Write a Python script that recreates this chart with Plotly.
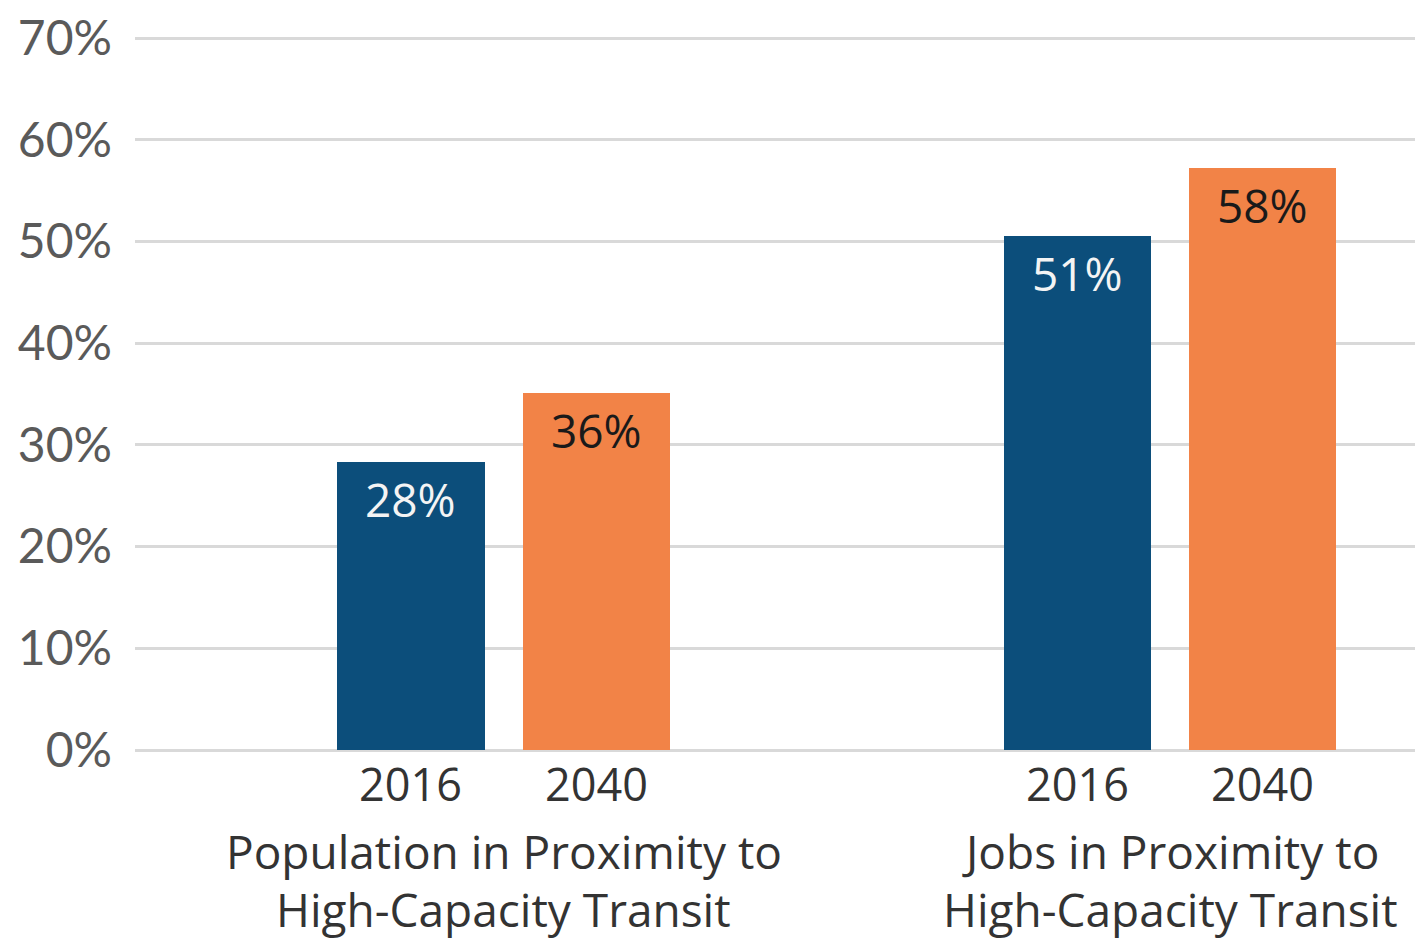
import plotly.graph_objects as go

groups = ["Population in Proximity to<br>High-Capacity Transit",
          "Jobs in Proximity to<br>High-Capacity Transit"]
years = ["2016", "2040"]
values_2016 = [28.3, 50.5]
values_2040 = [35.1, 57.2]
labels_2016 = ["28%", "51%"]
labels_2040 = ["36%", "58%"]
y_ticks = [0, 10, 20, 30, 40, 50, 60, 70]
y_ticktext = ["0%", "10%", "20%", "30%", "40%", "50%", "60%", "70%"]

BLUE = "#0C4E7B"
ORANGE = "#F28347"
OFFSET = 0.1392
WIDTH = 0.221
TICKFONT = "Lato"
TEXTFONT = "Open Sans"
PLOT_H = 750 - 37  # pixel height of plotting area

series = [
    (years[0], values_2016, labels_2016, BLUE, "#F4F4F4", -OFFSET),
    (years[1], values_2040, labels_2040, ORANGE, "#1A1A1A", OFFSET),
]

fig = go.Figure()
annotations = []
for name, vals, labs, color, tcolor, off in series:
    xs = [g + off for g in range(len(groups))]
    fig.add_trace(go.Bar(x=xs, y=vals, width=WIDTH, name=name,
                         marker=dict(color=color, line=dict(width=0)),
                         showlegend=False, hoverinfo="skip"))
    for x, v, lab in zip(xs, vals, labs):
        annotations.append(dict(x=x, y=v, xref="x", yref="y", text=lab,
                                showarrow=False, yanchor="top", yshift=-4,
                                font=dict(family=TEXTFONT, size=46, color=tcolor)))
        annotations.append(dict(x=x, y=-33 / PLOT_H, xref="x", yref="paper", text=name,
                                showarrow=False, yanchor="middle",
                                font=dict(family=TEXTFONT, size=45, color="#333333")))

for i, g in enumerate(groups):
    for j, line in enumerate(g.split("<br>")):
        annotations.append(dict(x=i, y=-(101 + 58 * j) / PLOT_H, xref="x", yref="paper",
                                text=line, showarrow=False, yanchor="middle",
                                xanchor="center",
                                font=dict(family=TEXTFONT, size=46, color="#333333")))

fig.update_layout(
    width=1415, height=943,
    margin=dict(l=135, r=0, t=37, b=193),
    paper_bgcolor="white", plot_bgcolor="white",
    bargap=0, annotations=annotations,
    xaxis=dict(range=[-0.5534, 1.3677], showticklabels=False,
               showgrid=False, zeroline=False, showline=False, ticks=""),
    yaxis=dict(range=[0, 70.1], tickmode="array", tickvals=y_ticks, ticktext=y_ticktext,
               showgrid=True, gridcolor="#D9D9D9", gridwidth=2.5,
               zeroline=True, zerolinecolor="#D9D9D9", zerolinewidth=2.5,
               showline=False, ticks="", ticklabelstandoff=22,
               tickfont=dict(family=TICKFONT, size=48, color="#5A5A5A")),
)

fig.write_html("out.html")
